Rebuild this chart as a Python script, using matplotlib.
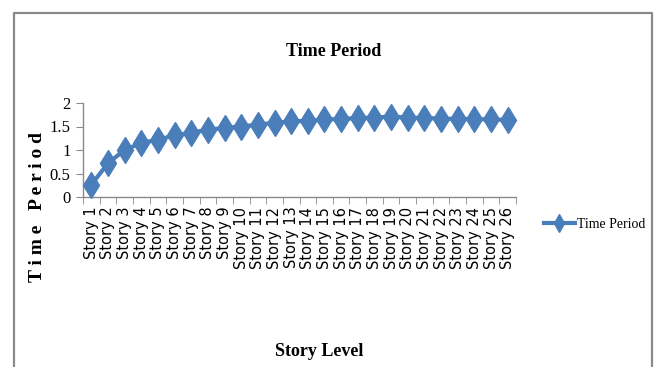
import matplotlib
matplotlib.use("Agg")
import matplotlib.pyplot as plt
from matplotlib.lines import Line2D

# Fundamental time period per story
stories = [f"Story {i}" for i in range(1, 27)]
periods = [0.26, 0.72, 1.00, 1.15, 1.22, 1.31, 1.37, 1.43, 1.47, 1.50,
           1.54, 1.58, 1.61, 1.62, 1.65, 1.66, 1.68, 1.69, 1.71, 1.69,
           1.68, 1.67, 1.66, 1.66, 1.65, 1.64]
yticks = [0, 0.5, 1, 1.5, 2]
ytick_labels = ["0", "0.5", "1", "1.5", "2"]

W, H = 656, 367
fig = plt.figure(figsize=(W / 100, H / 100), dpi=100)

# chart-area frame (open at the bottom edge)
frame_col = "#8a8a8a"
fx0, fx1, fy0 = 14 / W, 652 / W, 1 - 13 / H
fig.add_artist(Line2D([fx0, fx0, fx1, fx1], [0, fy0, fy0, 0],
                      transform=fig.transFigure, color=frame_col, lw=1.6))

ax = fig.add_axes([83 / W, 1 - 197 / H, (516 - 83) / W, (197 - 103) / H])
blue = "#4a7ebb"
x = list(range(len(stories)))
ax.plot(x, periods, color=blue, lw=3, marker="d", ms=13,
        markeredgecolor=blue, markerfacecolor=blue, label="Time Period",
        clip_on=False, zorder=3)

ax.set_xlim(-0.5, len(stories) - 0.5)
ax.set_ylim(0, 2)

serif = "Liberation Serif"

ax.set_yticks(yticks)
ax.set_yticklabels(ytick_labels, fontsize=12, family=serif)
ax.set_xticks(x)
ax.set_xticklabels(stories, rotation=90, fontsize=10.5, family="DejaVu Sans")
ax.set_xticks([i - 0.5 for i in range(len(stories) + 1)], minor=True)
ax.tick_params(axis="x", which="major", length=0, pad=7)
ax.tick_params(axis="x", which="minor", length=5, color=frame_col)
ax.tick_params(axis="y", length=5, color=frame_col, pad=4)

for s in ("top", "right"):
    ax.spines[s].set_visible(False)
for s in ("left", "bottom"):
    ax.spines[s].set_color(frame_col)
    ax.spines[s].set_linewidth(1.0)

fig.text(334 / W, 1 - 52 / H, "Time Period", ha="center", va="center",
         fontsize=13, weight="bold", family=serif)
fig.text(319 / W, 1 - 352 / H, "Story Level", ha="center", va="center",
         fontsize=13, weight="bold", family=serif)
fig.text(38 / W, 1 - 207 / H, "T i m e   P e r i o d", ha="center",
         va="center", rotation=90, fontsize=14, weight="bold", family=serif)

leg = fig.legend(handles=[Line2D([], [], color=blue, lw=3, marker="d", ms=9,
                                 label="Time Period")],
                 loc="center left", bbox_to_anchor=(537 / W, 1 - 224 / H),
                 frameon=False, handlelength=2.2, handletextpad=0.15,
                 borderpad=0, prop=dict(size=10, family=serif))

fig.savefig("out.png", dpi=100)
